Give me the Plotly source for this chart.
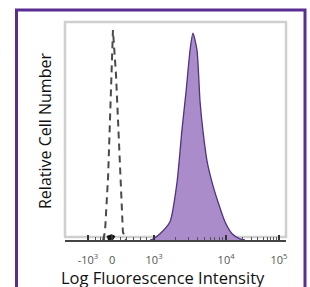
import plotly.graph_objects as go
import math

# ---- data (channel units 0..1000 on a biexponential display scale) ----
stained_channel = [385, 398, 430, 475, 507, 529, 548, 566, 579, 597, 611, 624, 643, 665, 692, 724, 756, 792, 814]
stained_count   = [0, 0.5, 3, 8.8, 28, 53, 72, 92, 100, 92, 67, 53, 38, 28, 18.5, 8.8, 3, 0.5, 0]

control_channel = [172, 181, 195, 204, 208, 217, 231, 240, 249, 262, 276]
control_count   = [0, 3.9, 30.7, 57.6, 79.5, 101.5, 79.5, 57.6, 30.7, 3.9, 0]

blob_channel = [192, 198, 204, 210, 216, 222]
blob_count   = [0.8, 1.2, 1.5, 1.5, 1.2, 0.8]

tick_vals  = [104, 213, 403, 729, 968]
tick_texts = ["-10<sup>3</sup>", "0", "10<sup>3</sup>", "10<sup>4</sup>", "10<sup>5</sup>"]

x_title = "Log Fluorescence Intensity"
y_title = "Relative Cell Number"

# minor ticks within decades (display-scale mapping between labeled decades)
minor_vals = []
for a, b in [(403, 729), (729, 968)]:
    for k in range(2, 10):
        minor_vals.append(a + math.log10(k) * (b - a))
minor_vals += [140, 160, 180, 250, 280, 310, 340, 370]

W, H = 310, 287
L, R, T, B = 65, 24, 22, 47
pw, ph = W - L - R, H - T - B

fig = go.Figure()
fig.add_trace(go.Scatter(
    x=stained_channel, y=stained_count, mode="lines", fill="tozeroy",
    fillcolor="#ab8ccb", line=dict(color="#4e3380", width=1.3, shape="spline", smoothing=0.6),
    hoverinfo="skip", showlegend=False))
fig.add_trace(go.Scatter(
    x=control_channel, y=control_count, mode="lines",
    line=dict(color="#4a4a4a", width=2, dash="7px,5px"),
    hoverinfo="skip", showlegend=False))
fig.add_trace(go.Scatter(
    x=blob_channel, y=blob_count, mode="lines",
    line=dict(color="#111111", width=5),
    hoverinfo="skip", showlegend=False))

def px_x(p):
    return (p - L) / pw

def px_y(p):
    return (H - B - p) / ph

shapes = [
    dict(type="rect", xref="paper", yref="paper", x0=0, x1=1, y0=px_y(237), y1=1,
         line=dict(color="#cfcfcf", width=2.5), layer="below"),
    dict(type="rect", xref="paper", yref="paper", x0=px_x(16.5), x1=px_x(305),
         y0=px_y(300), y1=px_y(10), line=dict(color="#5b2d91", width=3)),
]

fig.update_layout(
    width=W, height=H,
    margin=dict(l=L, r=R, t=T, b=B, autoexpand=False),
    paper_bgcolor="white", plot_bgcolor="white",
    font=dict(family="Open Sans", color="#111111"),
    shapes=shapes,
    xaxis=dict(
        range=[0, 1000], showgrid=False, zeroline=False, automargin=False,
        tickmode="array", tickvals=tick_vals, ticktext=tick_texts,
        tickfont=dict(size=11, color="#555555"), ticklabelstandoff=9,
        ticks="inside", ticklen=5, tickwidth=1.5, tickcolor="#333333",
        showline=True, linecolor="#444444", linewidth=1.5,
        minor=dict(tickmode="array", tickvals=minor_vals, ticks="inside", ticklen=3,
                   tickcolor="#555555", tickwidth=1),
        fixedrange=True,
    ),
    yaxis=dict(
        range=[0, 105.4], showgrid=False, zeroline=False, showticklabels=False,
        ticks="", showline=False, automargin=False, fixedrange=True,
    ),
    annotations=[
        dict(text=x_title, xref="paper", yref="paper", x=px_x(163), y=px_y(277.5),
             xanchor="center", yanchor="middle", showarrow=False,
             font=dict(size=16.5, color="#111111", family="Open Sans")),
        dict(text=y_title, xref="paper", yref="paper", x=px_x(45), y=px_y(131),
             xanchor="center", yanchor="middle", showarrow=False, textangle=-90,
             font=dict(size=16, color="#111111", family="Open Sans")),
        dict(text="<b>d</b>", xref="paper", yref="paper", x=px_x(3), y=px_y(52),
             xanchor="right", yanchor="middle", showarrow=False,
             font=dict(size=17, color="#111111", family="Open Sans")),
    ],
)

fig.write_html("out.html", config={"displayModeBar": False},
               post_script="document.body.style.margin='0';")
